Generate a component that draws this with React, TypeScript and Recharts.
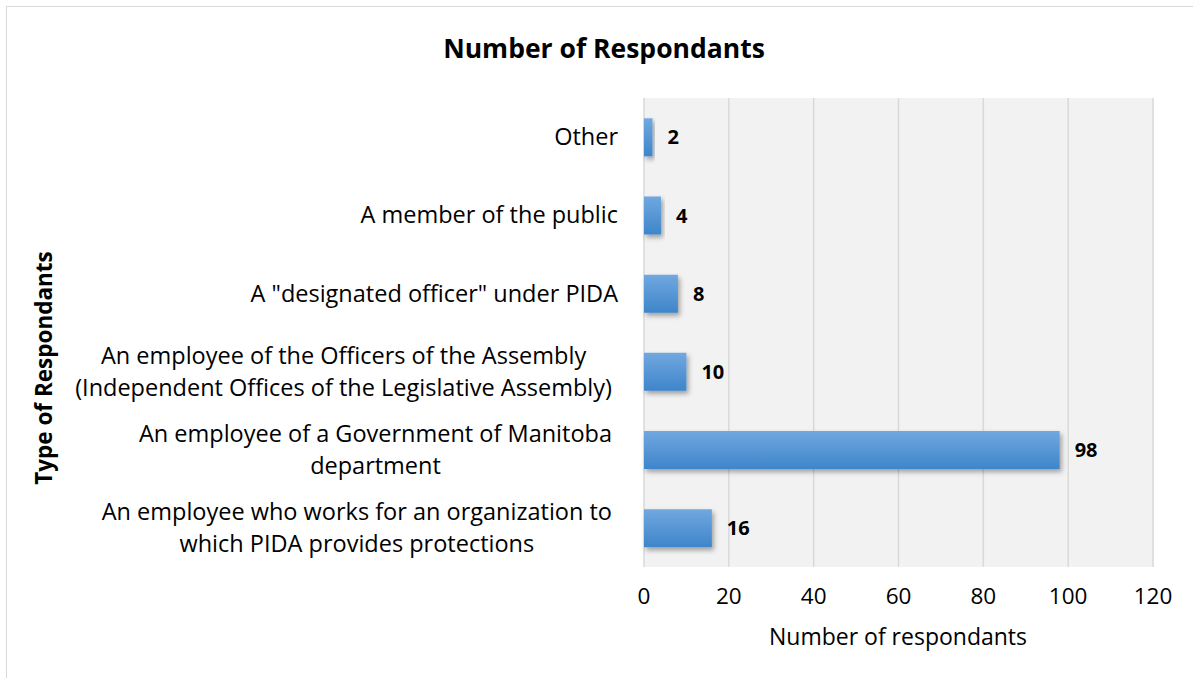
import React from "react";
import { BarChart, Bar, XAxis, YAxis, CartesianGrid, LabelList } from "recharts";

const categories = [
  "Other",
  "A member of the public",
  "A \"designated officer\" under PIDA",
  "An employee of the Officers of the Assembly\n(Independent Offices of the Legislative Assembly)",
  "An employee of a Government of Manitoba\ndepartment",
  "An employee who works for an organization to\nwhich PIDA provides protections",
];
const respondents = [2, 4, 8, 10, 98, 16];
const xTicks = [0, 20, 40, 60, 80, 100, 120];

const data = categories.map((c, i) => ({ name: c, value: respondents[i] }));

const FONT = "'Open Sans', sans-serif";
const CAT_SIZE = 23.5;
const TICK_SIZE = 22.5;

let measureCtx: CanvasRenderingContext2D | null = null;
function measure(text: string): number {
  if (!measureCtx) {
    const c = document.createElement("canvas");
    measureCtx = c.getContext("2d");
  }
  if (!measureCtx) return text.length * CAT_SIZE * 0.5;
  measureCtx.font = `${CAT_SIZE}px 'Open Sans'`;
  return measureCtx.measureText(text).width;
}

const CategoryTick = (props: any) => {
  const { x, y, payload } = props;
  const lines: string[] = String(payload.value).split("\n");
  const multi = lines.length > 1;
  const right = x - (multi ? 32 : 26);
  const lh = 32;
  const maxW = Math.max(...lines.map((l) => measure(l)));
  const cx = right - maxW / 2;
  const startY = y - ((lines.length - 1) * lh) / 2;
  return (
    <g>
      {lines.map((l, i) => (
        <text
          key={i}
          x={multi ? cx : right}
          y={startY + i * lh}
          dy="0.35em"
          textAnchor={multi ? "middle" : "end"}
          fontFamily={FONT}
          fontSize={CAT_SIZE}
          fill="#000"
        >
          {l}
        </text>
      ))}
    </g>
  );
};

export default function App() {
  return (
    <div style={{ position: "absolute", left: 0, top: 0, width: 1193, height: 678, background: "#fff", overflow: "hidden" }}>
      <div
        style={{
          position: "absolute",
          left: 6,
          top: 6,
          width: 1200,
          height: 700,
          border: "1.5px solid #d9d9d9",
          boxSizing: "border-box",
        }}
      />
      <div
        style={{
          position: "absolute",
          left: 604,
          top: 48,
          transform: "translate(-50%, -50%)",
          whiteSpace: "nowrap",
          fontFamily: FONT,
          fontWeight: 700,
          fontSize: 26.5,
          color: "#000",
        }}
      >
        Number of Respondants
      </div>
      <div
        style={{
          position: "absolute",
          left: 43,
          top: 368,
          transform: "translate(-50%, -50%) rotate(-90deg)",
          whiteSpace: "nowrap",
          fontFamily: FONT,
          fontWeight: 700,
          fontSize: 22.5,
          color: "#000",
        }}
      >
        Type of Respondants
      </div>
      <div
        style={{
          position: "absolute",
          left: 898,
          top: 636,
          transform: "translate(-50%, -50%)",
          whiteSpace: "nowrap",
          fontFamily: FONT,
          fontSize: 23,
          color: "#000",
        }}
      >
        Number of respondants
      </div>
      <div style={{ position: "absolute", left: 0, top: 0 }}>
        <BarChart
          width={1193}
          height={678}
          data={data}
          layout="vertical"
          margin={{ top: 98, right: 40, bottom: 51, left: 0 }}
          barCategoryGap="26%"
        >
          <defs>
            <linearGradient id="barGrad" x1="0" y1="0" x2="0" y2="1">
              <stop offset="0%" stopColor="#71a8df" />
              <stop offset="100%" stopColor="#3e85cb" />
            </linearGradient>
            <filter id="barShadow" x="-10%" y="-20%" width="130%" height="160%">
              <feDropShadow dx="2" dy="3" stdDeviation="2.5" floodColor="#000" floodOpacity="0.35" />
            </filter>
          </defs>
          <CartesianGrid horizontal={false} vertical={true} stroke="#d9d9d9" strokeWidth={1.5} fill="#f2f2f2" />
          <XAxis
            type="number"
            domain={[0, 120]}
            ticks={xTicks}
            axisLine={false}
            tickLine={false}
            tickSize={0}
            tickMargin={21}
            height={60}
            tick={{ fontFamily: FONT, fontSize: TICK_SIZE, fill: "#000" }}
          />
          <YAxis
            type="category"
            dataKey="name"
            width={644}
            axisLine={false}
            tickLine={false}
            tickSize={0}
            tickMargin={0}
            interval={0}
            tick={<CategoryTick />}
          />
          <Bar dataKey="value" fill="url(#barGrad)" filter="url(#barShadow)" isAnimationActive={false}>
            <LabelList
              dataKey="value"
              position="right"
              offset={15}
              fontFamily={FONT}
              fontWeight={700}
              fontSize={20}
              fill="#000"
            />
          </Bar>
        </BarChart>
      </div>
    </div>
  );
}
